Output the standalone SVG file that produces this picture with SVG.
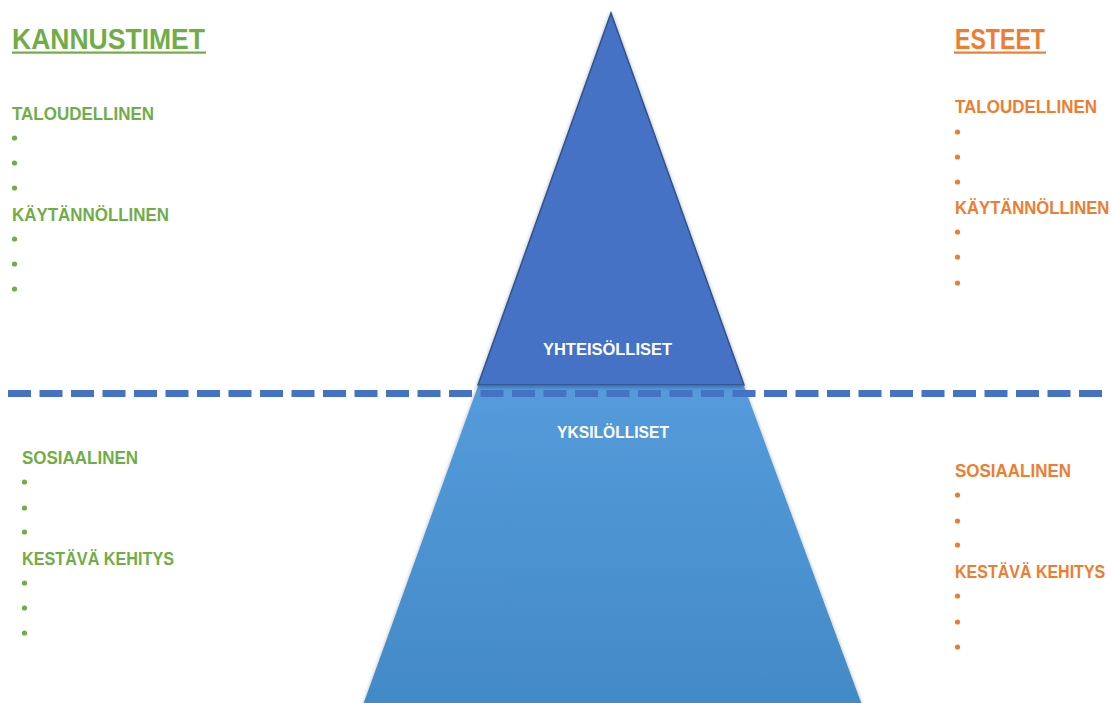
<svg xmlns="http://www.w3.org/2000/svg" width="1112" height="703" viewBox="0 0 1112 703">
<defs>
<linearGradient id="lowGrad" x1="0" y1="0" x2="0" y2="1">
<stop offset="0" stop-color="#559BDB"/>
<stop offset="1" stop-color="#428AC6"/>
</linearGradient>
<filter id="shadow" x="-10%" y="-10%" width="120%" height="120%">
<feGaussianBlur in="SourceAlpha" stdDeviation="2"/>
<feOffset dx="0" dy="1" result="b"/>
<feComponentTransfer><feFuncA type="linear" slope="0.35"/></feComponentTransfer>
<feMerge><feMergeNode/><feMergeNode in="SourceGraphic"/></feMerge>
</filter>
<style>
text{font-family:"Liberation Sans",Arial,sans-serif;font-weight:bold;}
.g{fill:#70AD47;}
.o{fill:#ED7D31;}
.h{font-size:29px;}
.s{font-size:18px;}
.c{font-size:17px;fill:#FFFFFF;}
</style>
</defs>
<rect x="0" y="0" width="1112" height="703" fill="#FFFFFF"/>

<g id="lower-trapezoid">
<polygon points="478,386 744,386 862,705 363,705" fill="url(#lowGrad)" filter="url(#shadow)"/>
<text class="c" x="557" y="438" textLength="112" lengthAdjust="spacingAndGlyphs">YKSILÖLLISET</text>
</g>

<g id="upper-triangle">
<polygon points="611,13 744,385 478,385" fill="#4472C4" stroke="#2F528F" stroke-width="1.5" stroke-linejoin="miter" filter="url(#shadow)"/>
<text class="c" x="543" y="355" textLength="129" lengthAdjust="spacingAndGlyphs">YHTEISÖLLISET</text>
</g>

<g id="connectors">
<line x1="8" y1="393.5" x2="1106" y2="393.5" stroke="#4472C4" stroke-width="7" stroke-dasharray="23,8.5"/>
</g>

<g id="kannustimet" class="g">
<text class="h g" x="12" y="49" textLength="193" lengthAdjust="spacingAndGlyphs">KANNUSTIMET</text>
<rect x="12" y="51.5" width="194" height="2.2" fill="#70AD47"/>
<text class="s g" x="12" y="120" textLength="142" lengthAdjust="spacingAndGlyphs">TALOUDELLINEN</text>
<circle cx="14.5" cy="138" r="2.6"/>
<circle cx="14.5" cy="163" r="2.6"/>
<circle cx="14.5" cy="188" r="2.6"/>
<text class="s g" x="12" y="221" textLength="157" lengthAdjust="spacingAndGlyphs">KÄYTÄNNÖLLINEN</text>
<circle cx="14.5" cy="239" r="2.6"/>
<circle cx="14.5" cy="264" r="2.6"/>
<circle cx="14.5" cy="289" r="2.6"/>
</g>

<g id="kannustimet-lower" class="g">
<text class="s g" x="22" y="464" textLength="116" lengthAdjust="spacingAndGlyphs">SOSIAALINEN</text>
<circle cx="24.5" cy="482" r="2.6"/>
<circle cx="24.5" cy="508" r="2.6"/>
<circle cx="24.5" cy="532" r="2.6"/>
<text class="s g" x="22" y="565" textLength="152" lengthAdjust="spacingAndGlyphs">KESTÄVÄ KEHITYS</text>
<circle cx="24.5" cy="583" r="2.6"/>
<circle cx="24.5" cy="608" r="2.6"/>
<circle cx="24.5" cy="633" r="2.6"/>
</g>

<g id="esteet" class="o">
<text class="h o" x="955" y="49" textLength="90" lengthAdjust="spacingAndGlyphs">ESTEET</text>
<rect x="954" y="51.5" width="92" height="2.2" fill="#ED7D31"/>
<text class="s o" x="955" y="113" textLength="142" lengthAdjust="spacingAndGlyphs">TALOUDELLINEN</text>
<circle cx="957.5" cy="132" r="2.6"/>
<circle cx="957.5" cy="157" r="2.6"/>
<circle cx="957.5" cy="182" r="2.6"/>
<text class="s o" transform="translate(955,214) scale(0.925,1)" x="0" y="0">KÄYTÄNNÖLLINEN</text>
<circle cx="957.5" cy="232" r="2.6"/>
<circle cx="957.5" cy="257" r="2.6"/>
<circle cx="957.5" cy="283" r="2.6"/>
</g>

<g id="esteet-lower" class="o">
<text class="s o" x="955" y="477" textLength="116" lengthAdjust="spacingAndGlyphs">SOSIAALINEN</text>
<circle cx="957.5" cy="495" r="2.6"/>
<circle cx="957.5" cy="521" r="2.6"/>
<circle cx="957.5" cy="545" r="2.6"/>
<text class="s o" transform="translate(955,578) scale(0.89,1)" x="0" y="0">KESTÄVÄ KEHITYS</text>
<circle cx="957.5" cy="596" r="2.6"/>
<circle cx="957.5" cy="622" r="2.6"/>
<circle cx="957.5" cy="647" r="2.6"/>
</g>
</svg>
